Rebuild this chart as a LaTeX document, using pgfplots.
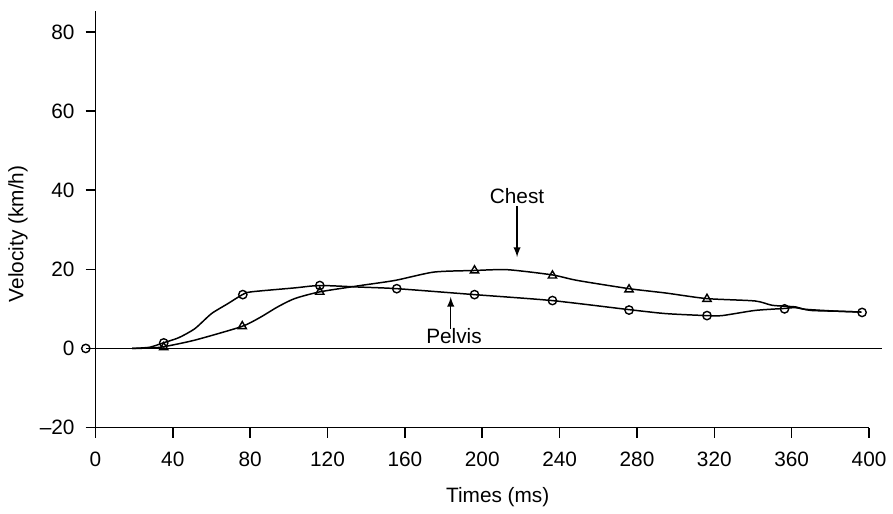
\documentclass[border=0pt]{standalone}
\usepackage{fontspec}
\setmainfont{Liberation Sans}
\usepackage{pgfplots}
\pgfplotsset{compat=1.18}

\newcommand{\figfont}{\fontsize{10.5}{12.6}\selectfont}

\begin{document}
\begin{tikzpicture}[font=\figfont]
\begin{axis}[
    scale only axis,
    width=389bp, height=209.5bp,
    xmin=0, xmax=400,
    ymin=-20, ymax=85.3,
    axis lines*=left,
    axis line style={line width=0.8bp},
    tick style={line width=0.8bp, black},
    tick align=outside,
    major tick length=5bp,
    xtick={0,40,...,400},
    ytick={-20,0,20,40,60,80},
    yticklabels={--20,0,20,40,60,80},
    /pgf/number format/assume math mode=true,
    tick label style={font=\figfont},
    label style={font=\figfont},
    xticklabel style={yshift=-4bp},
    yticklabel style={xshift=-2bp},
    clip=false,
    ylabel={Velocity (km/h)},
    xlabel={Times (ms)},
    ylabel style={at={(axis description cs:-0.1,0.465)}, anchor=center, rotate=0},
    xlabel style={at={(axis description cs:0.52,-0.168)}, anchor=center},
]
\coordinate (O) at (rel axis cs:0,0);
\draw[line width=0.8bp] (axis cs:0,0) -- (axis cs:406.7,0);

% Pelvis curve
\addplot[black, line width=0.75bp, smooth, tension=0.4] coordinates {
(19,0) (28,0.3) (35,1.4) (43,2.7) (51.4,5.0) (60,8.8) (68.4,11.3) (76,13.6)
(80.5,14.3) (103,15.3) (116,15.9) (137,15.5) (156,15.1) (196,13.6) (236,12.1)
(276,9.8) (295,8.8) (316,8.3) (324,8.3) (341,9.6) (356,10.1) (362,10.3)
(370,9.6) (384,9.4) (396,9.2)
};
% Chest curve
\addplot[black, line width=0.75bp, smooth, tension=0.4] coordinates {
(19,0) (28,0.1) (35,0.4) (51.4,2.1) (75.4,5.5) (85,7.8) (94.2,10.5) (103,12.6)
(116,14.3) (137,15.9) (155,17.2) (175,19.3) (196,19.7) (213,19.9) (236,18.6)
(249,17.2) (276,15.1) (295,14.0) (316,12.6) (341,12.0) (350,10.9) (362,10.5)
(367,9.9) (384,9.4) (396,9.2)
};
% Pelvis markers
\addplot[only marks, mark=o, mark size=2.1bp, black, mark options={line width=0.7bp, fill=white}] coordinates {
(-5,0) (35.3,1.4) (76.2,13.6) (116,15.9) (155.8,15.1) (196,13.6) (236.3,12.1)
(275.9,9.7) (316.2,8.3) (356.3,10.0) (396.4,9.1)
};
% Chest markers
\addplot[only marks, mark=triangle, mark size=2.4bp, black, mark options={line width=0.7bp}] coordinates {
(35.3,0.3) (75.9,5.6) (116,14.3) (196,19.7) (236.3,18.4) (275.9,14.9) (316.2,12.5)
};

\node at (axis cs:218,38.5) {Chest};
\draw[-latex, line width=0.7bp] (axis cs:218,36) -- (axis cs:218,23.1);
\node at (axis cs:185.4,3.2) {Pelvis};
\draw[-latex, line width=0.7bp] (axis cs:183.7,5.0) -- (axis cs:183.7,13.0);
\end{axis}
\useasboundingbox ([shift={(-48bp,-36bp)}]O) rectangle ([shift={(398.5bp,215bp)}]O);
\end{tikzpicture}
\end{document}
